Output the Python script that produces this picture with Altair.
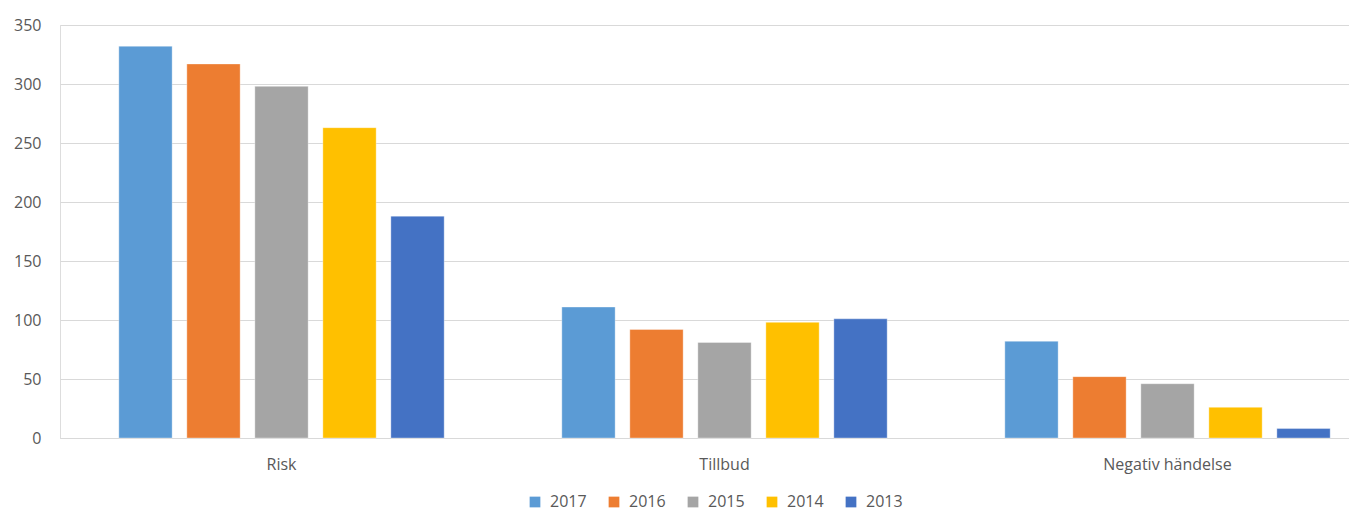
import altair as alt
import pandas as pd

categories = ["Risk", "Tillbud", "Negativ händelse"]
years = ["2017", "2016", "2015", "2014", "2013"]
colors = ["#5B9BD5", "#ED7D31", "#A5A5A5", "#FFC000", "#4472C4"]
values = {
    "2017": [332, 111, 82],
    "2016": [317, 92, 52],
    "2015": [298, 81, 46],
    "2014": [263, 98, 26],
    "2013": [188, 101, 8],
}
y_ticks = [0, 50, 100, 150, 200, 250, 300, 350]

rows = []
for y in years:
    for c, v in zip(categories, values[y]):
        rows.append({"Kategori": c, "År": y, "Antal": v})
df = pd.DataFrame(rows)

FONT = "Open Sans"
TXT = "#595959"

chart = alt.Chart(df).mark_bar(stroke="white", strokeOpacity=0.35, strokeWidth=1).encode(
    x=alt.X("Kategori:N", sort=categories, title=None,
            scale=alt.Scale(range=[0, 1329], paddingInner=0, paddingOuter=0),
            axis=alt.Axis(labelAngle=0, ticks=False, domain=True, domainColor="#D9D9D9",
                          labelFont=FONT, labelFontSize=16, labelColor=TXT,
                          labelPadding=18, grid=False)),
    xOffset=alt.XOffset("År:N", sort=years,
                        scale=alt.Scale(paddingInner=0.216, paddingOuter=0.865)),
    y=alt.Y("Antal:Q", title=None,
            scale=alt.Scale(domain=[0, 350], nice=False),
            axis=alt.Axis(values=y_ticks, ticks=False, domain=False, grid=True,
                          gridColor="#D9D9D9", gridWidth=1.2,
                          labelFont=FONT, labelFontSize=16, labelColor=TXT,
                          labelPadding=19)),
    color=alt.Color("År:N", sort=years,
                    scale=alt.Scale(domain=years, range=colors),
                    legend=alt.Legend(title=None, orient="none", direction="horizontal",
                                      legendX=467, legendY=469,
                                      symbolType="square", symbolSize=115,
                                      symbolStrokeWidth=0, labelOffset=7,
                                      columnPadding=19,
                                      labelFont=FONT, labelFontSize=16, labelColor=TXT)),
).properties(
    width=1289, height=413,
    autosize=alt.AutoSizeParams(type="none"),
    padding={"left": 60, "top": 25, "right": 0, "bottom": 73},
).configure_view(stroke=None).configure(background="white")

chart.save("out.html", embed_options={"renderer": "svg", "actions": False})
